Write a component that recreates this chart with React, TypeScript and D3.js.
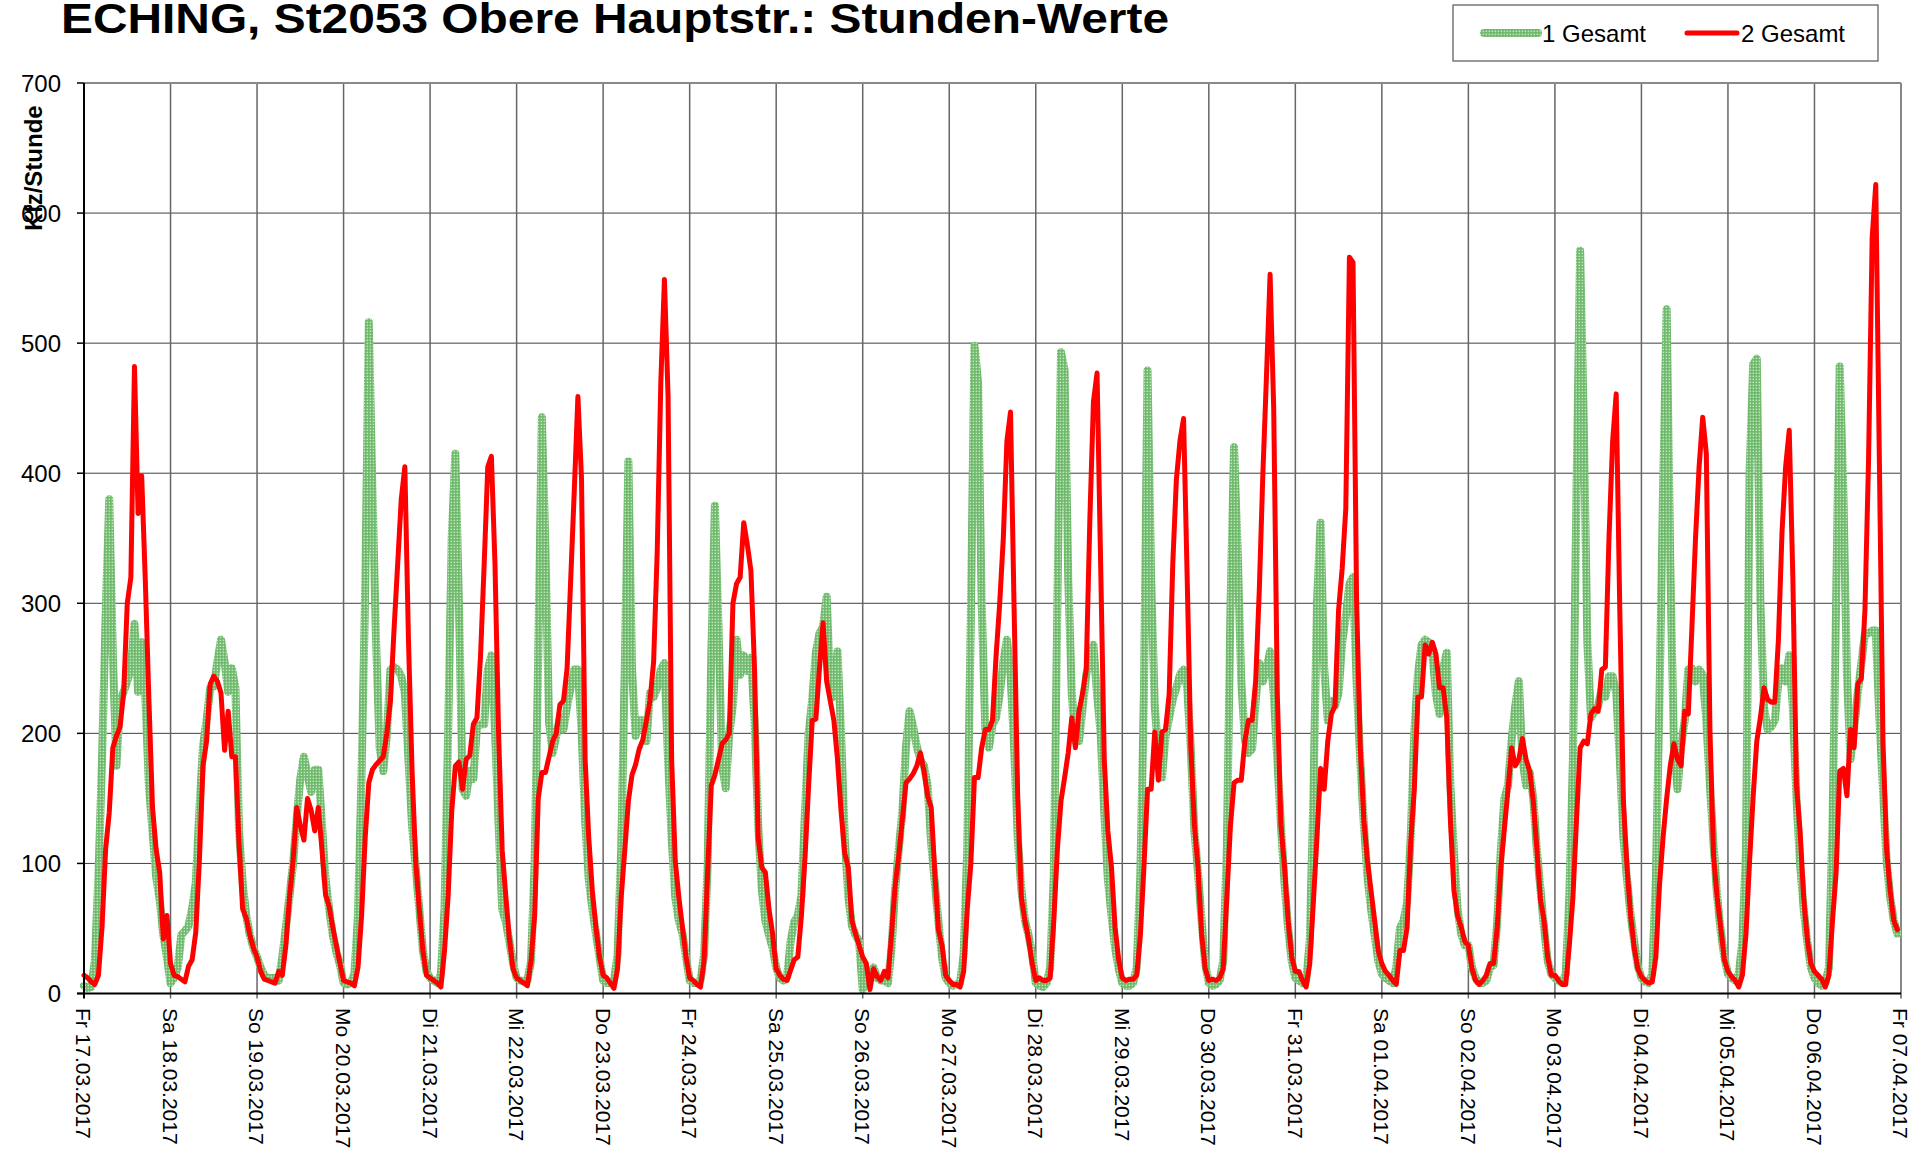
import { useEffect, useRef } from 'react';
import * as d3 from 'd3';

const TITLE = 'ECHING, St2053 Obere Hauptstr.: Stunden-Werte';

const dayLabels = [
  'Fr 17.03.2017', 'Sa 18.03.2017', 'So 19.03.2017', 'Mo 20.03.2017', 'Di 21.03.2017',
  'Mi 22.03.2017', 'Do 23.03.2017', 'Fr 24.03.2017', 'Sa 25.03.2017', 'So 26.03.2017',
  'Mo 27.03.2017', 'Di 28.03.2017', 'Mi 29.03.2017', 'Do 30.03.2017', 'Fr 31.03.2017',
  'Sa 01.04.2017', 'So 02.04.2017', 'Mo 03.04.2017', 'Di 04.04.2017', 'Mi 05.04.2017',
  'Do 06.04.2017', 'Fr 07.04.2017'
];

const yTicks = [0, 100, 200, 300, 400, 500, 600, 700];

// hourly values, one row per day (00..23 h)
const gesamt1 = [
  6, 4, 5, 25, 90, 180, 290, 380, 260, 175, 225, 232, 240, 250, 284, 232, 270, 230, 160, 125, 90, 72, 45, 28,
  8, 12, 20, 45, 48, 52, 65, 85, 140, 190, 210, 235, 236, 255, 272, 255, 232, 250, 235, 125, 85, 60, 45, 35,
  28, 20, 14, 12, 12, 12, 10, 28, 51, 75, 100, 135, 165, 182, 168, 155, 172, 172, 130, 88, 65, 45, 32, 22,
  8, 7, 8, 15, 60, 170, 310, 516, 387, 272, 189, 171, 198, 249, 251, 249, 244, 231, 180, 129, 97, 65, 33, 17,
  12, 10, 8, 15, 65, 200, 350, 415, 300, 157, 152, 171, 165, 205, 207, 207, 249, 260, 203, 130, 65, 55, 40, 23,
  12, 10, 9, 10, 25, 100, 260, 443, 341, 208, 185, 198, 212, 203, 221, 235, 249, 249, 203, 134, 88, 65, 46, 28,
  10, 8, 8, 10, 30, 110, 250, 409, 250, 198, 210, 210, 194, 231, 228, 235, 249, 254, 180, 120, 74, 56, 46, 28,
  10, 8, 8, 10, 30, 100, 260, 375, 280, 175, 158, 200, 222, 272, 245, 260, 248, 258, 210, 130, 80, 56, 45, 35,
  20, 12, 10, 12, 40, 55, 60, 75, 140, 200, 226, 262, 277, 282, 305, 235, 228, 263, 200, 120, 75, 52, 45, 40,
  3, 18, 15, 20, 12, 10, 10, 8, 35, 80, 111, 140, 190, 217, 205, 190, 180, 175, 160, 115, 85, 55, 28, 12,
  8, 6, 7, 8, 30, 111, 290, 498, 470, 300, 203, 189, 207, 212, 230, 255, 272, 245, 190, 120, 80, 56, 45, 30,
  8, 6, 5, 8, 20, 90, 300, 493, 479, 320, 230, 194, 194, 220, 245, 258, 268, 230, 200, 140, 88, 60, 35, 19,
  8, 6, 6, 8, 20, 90, 230, 479, 320, 221, 185, 166, 198, 212, 226, 235, 245, 249, 235, 189, 125, 93, 56, 23,
  8, 6, 7, 10, 25, 111, 295, 420, 340, 240, 195, 185, 188, 225, 254, 240, 250, 263, 231, 180, 130, 85, 50, 25,
  12, 10, 8, 10, 40, 150, 300, 362, 250, 210, 225, 221, 231, 270, 290, 315, 320, 240, 180, 130, 90, 65, 45, 25,
  15, 12, 10, 8, 20, 50, 56, 70, 120, 200, 245, 268, 272, 270, 262, 230, 215, 250, 262, 160, 108, 65, 46, 37,
  37, 20, 12, 8, 8, 10, 20, 22, 55, 110, 150, 160, 195, 221, 240, 180, 160, 170, 150, 110, 80, 50, 25, 15,
  12, 10, 8, 15, 74, 180, 387, 571, 440, 270, 212, 217, 221, 235, 228, 244, 244, 231, 180, 120, 88, 60, 40, 21,
  12, 9, 8, 15, 88, 226, 387, 526, 330, 190, 157, 190, 210, 249, 250, 240, 249, 245, 210, 160, 115, 75, 48, 28,
  15, 12, 10, 15, 40, 110, 400, 484, 488, 300, 220, 203, 205, 210, 240, 250, 240, 260, 220, 150, 100, 65, 40, 20,
  12, 8, 6, 8, 20, 130, 300, 482, 387, 245, 180, 203, 231, 254, 277, 277, 279, 279, 212, 157, 102, 74, 56, 46
];

const gesamt2 = [
  14, 12, 9, 7, 14, 51, 111, 139, 189, 198, 205, 231, 300, 320, 482, 369, 398, 318, 226, 143, 111, 93, 42, 60,
  23, 14, 13, 11, 9, 21, 26, 47, 102, 175, 194, 238, 244, 240, 231, 187, 217, 182, 182, 116, 65, 58, 45, 35,
  28, 17, 11, 10, 9, 8, 17, 14, 37, 74, 102, 143, 129, 118, 150, 141, 125, 143, 111, 76, 67, 51, 37, 23,
  10, 9, 8, 6, 20, 60, 120, 162, 172, 176, 179, 182, 200, 225, 280, 330, 380, 405, 272, 171, 102, 65, 33, 14,
  12, 10, 8, 5, 33, 75, 140, 175, 178, 157, 180, 183, 207, 212, 260, 330, 405, 413, 330, 200, 110, 75, 42, 19,
  12, 10, 8, 6, 25, 60, 150, 170, 170, 182, 194, 200, 222, 225, 250, 318, 387, 459, 396, 180, 120, 79, 51, 28,
  14, 12, 8, 4, 19, 74, 110, 148, 168, 176, 188, 195, 210, 225, 255, 340, 470, 549, 460, 180, 102, 74, 51, 28,
  12, 10, 7, 5, 25, 95, 160, 168, 180, 192, 195, 200, 300, 315, 320, 362, 345, 325, 249, 120, 97, 93, 65, 46,
  19, 14, 11, 10, 18, 26, 28, 60, 105, 160, 210, 211, 250, 285, 240, 225, 210, 180, 140, 108, 97, 56, 46, 37,
  28, 23, 3, 19, 13, 10, 17, 12, 46, 83, 106, 134, 162, 165, 169, 175, 185, 171, 152, 143, 93, 49, 37, 14,
  10, 7, 7, 5, 17, 65, 100, 166, 166, 189, 203, 203, 210, 260, 300, 350, 425, 447, 295, 150, 74, 56, 42, 23,
  10, 12, 10, 10, 12, 56, 111, 148, 166, 185, 212, 189, 217, 231, 249, 364, 455, 477, 330, 180, 125, 97, 51, 26,
  12, 10, 11, 11, 14, 44, 97, 157, 157, 201, 164, 201, 203, 230, 330, 395, 425, 442, 320, 190, 130, 97, 46, 19,
  10, 11, 10, 12, 19, 74, 129, 162, 164, 164, 194, 210, 210, 240, 310, 400, 475, 553, 450, 230, 130, 97, 56, 28,
  17, 17, 10, 5, 23, 70, 120, 173, 157, 194, 215, 221, 295, 327, 373, 566, 562, 300, 190, 134, 102, 79, 56, 33,
  23, 17, 14, 10, 7, 33, 33, 51, 116, 157, 228, 228, 268, 261, 270, 261, 235, 235, 212, 134, 79, 60, 51, 40,
  37, 19, 10, 7, 10, 14, 23, 23, 51, 97, 127, 157, 189, 175, 180, 196, 180, 171, 148, 111, 72, 56, 28, 14,
  14, 10, 7, 7, 37, 74, 134, 189, 194, 192, 215, 219, 217, 249, 251, 350, 424, 461, 295, 148, 97, 60, 35, 19,
  13, 10, 8, 9, 28, 83, 120, 150, 175, 192, 180, 175, 217, 215, 281, 350, 405, 443, 415, 203, 106, 74, 51, 26,
  17, 13, 10, 5, 14, 46, 102, 152, 194, 212, 235, 226, 224, 224, 272, 355, 405, 433, 320, 160, 125, 74, 42, 23,
  17, 14, 11, 5, 14, 56, 93, 171, 173, 152, 203, 189, 238, 242, 295, 410, 581, 622, 410, 194, 111, 79, 56, 49
];

const FONT = '"Liberation Sans", Arial, Helvetica, sans-serif';

export default function App() {
  const ref = useRef<SVGSVGElement | null>(null);

  useEffect(() => {
    if (!ref.current) return;
    const svg = d3.select(ref.current);
    svg.selectAll('*').remove();

    const left = 84, right = 1901, top = 83, bottom = 993.5;
    const hours = dayLabels.length - 1;

    const x = d3.scaleLinear().domain([0, hours * 24]).range([left, right]);
    const y = d3.scaleLinear().domain([0, 700]).range([bottom, top]);

    const defs = svg.append('defs');
    const pat = defs.append('pattern')
      .attr('id', 'greenPat')
      .attr('patternUnits', 'userSpaceOnUse')
      .attr('width', 3)
      .attr('height', 3);
    pat.append('rect').attr('width', 3).attr('height', 3).attr('fill', '#6cb86a');
    pat.append('rect').attr('x', 0.6).attr('y', 0.6).attr('width', 1.5).attr('height', 1.5).attr('fill', '#c4e7bf');

    svg.append('rect').attr('width', 1919).attr('height', 1152).attr('fill', '#fff');

    // title
    svg.append('text')
      .attr('x', 61)
      .attr('y', 33)
      .attr('font-family', FONT)
      .attr('font-weight', 'bold')
      .attr('font-size', 43)
      .attr('textLength', 1108)
      .attr('lengthAdjust', 'spacingAndGlyphs')
      .attr('fill', '#000')
      .text(TITLE);

    // horizontal grid
    svg.append('g')
      .selectAll('line')
      .data(yTicks.filter(d => d > 0 && d < 700))
      .enter()
      .append('line')
      .attr('x1', left).attr('x2', right)
      .attr('y1', d => y(d)).attr('y2', d => y(d))
      .attr('stroke', '#404040')
      .attr('stroke-width', 1);

    // vertical grid (days)
    svg.append('g')
      .selectAll('line')
      .data(d3.range(1, hours))
      .enter()
      .append('line')
      .attr('x1', d => x(d * 24)).attr('x2', d => x(d * 24))
      .attr('y1', top).attr('y2', bottom + 5)
      .attr('stroke', '#666')
      .attr('stroke-width', 1.5);

    // frame top / right
    svg.append('line')
      .attr('x1', left).attr('x2', right).attr('y1', top).attr('y2', top)
      .attr('stroke', '#888').attr('stroke-width', 2);
    svg.append('line')
      .attr('x1', right).attr('x2', right).attr('y1', top).attr('y2', bottom + 5)
      .attr('stroke', '#888').attr('stroke-width', 2);

    // series
    const line = d3.line<number>()
      .x((_, i) => x(i))
      .y(d => y(d));

    svg.append('path')
      .datum(gesamt1)
      .attr('d', line)
      .attr('fill', 'none')
      .attr('stroke', 'url(#greenPat)')
      .attr('stroke-width', 8)
      .attr('stroke-linejoin', 'round')
      .attr('stroke-linecap', 'round');

    svg.append('path')
      .datum(gesamt2)
      .attr('d', line)
      .attr('fill', 'none')
      .attr('stroke', '#ff0000')
      .attr('stroke-width', 5)
      .attr('stroke-linejoin', 'round')
      .attr('stroke-linecap', 'round');

    // axes
    svg.append('line')
      .attr('x1', left).attr('x2', left).attr('y1', top).attr('y2', bottom + 5)
      .attr('stroke', '#000').attr('stroke-width', 2);
    svg.append('line')
      .attr('x1', left - 7).attr('x2', right).attr('y1', bottom).attr('y2', bottom)
      .attr('stroke', '#000').attr('stroke-width', 2);

    const yAxis = svg.append('g');
    yAxis.selectAll('line')
      .data(yTicks)
      .enter()
      .append('line')
      .attr('x1', left - 7).attr('x2', left)
      .attr('y1', d => y(d)).attr('y2', d => y(d))
      .attr('stroke', '#000').attr('stroke-width', 1.5);
    yAxis.selectAll('text')
      .data(yTicks)
      .enter()
      .append('text')
      .attr('x', 61)
      .attr('y', d => y(d))
      .attr('dy', '0.36em')
      .attr('text-anchor', 'end')
      .attr('font-family', FONT)
      .attr('font-size', 24)
      .attr('fill', '#000')
      .text(d => d);

    svg.append('text')
      .attr('transform', 'translate(42,168) rotate(-90)')
      .attr('text-anchor', 'middle')
      .attr('font-family', FONT)
      .attr('font-weight', 'bold')
      .attr('font-size', 24)
      .attr('fill', '#000')
      .text('Kfz/Stunde');

    svg.append('g')
      .selectAll('text')
      .data(dayLabels)
      .enter()
      .append('text')
      .attr('transform', (_, i) => `translate(${x(i * 24)},1008) rotate(90)`)
      .attr('y', '0.36em')
      .attr('text-anchor', 'start')
      .attr('font-family', FONT)
      .attr('font-size', 21)
      .attr('fill', '#000')
      .text(d => d);

    // legend
    const lg = svg.append('g');
    lg.append('rect')
      .attr('x', 1453).attr('y', 5).attr('width', 425).attr('height', 56)
      .attr('fill', '#fff').attr('stroke', '#555').attr('stroke-width', 1.2);
    const items = [
      { label: '1 Gesamt', x1: 1484, x2: 1538, stroke: 'url(#greenPat)', w: 8 },
      { label: '2 Gesamt', x1: 1687, x2: 1737, stroke: '#ff0000', w: 5 }
    ];
    items.forEach(it => {
      lg.append('line')
        .attr('x1', it.x1).attr('x2', it.x2).attr('y1', 33).attr('y2', 33)
        .attr('stroke', it.stroke).attr('stroke-width', it.w)
        .attr('stroke-linecap', 'round');
      lg.append('text')
        .attr('x', it.x2 + 4)
        .attr('y', 42)
        .attr('font-family', FONT)
        .attr('font-size', 24)
        .attr('fill', '#000')
        .text(it.label);
    });
  }, []);

  return (
    <svg
      ref={ref}
      width={1919}
      height={1152}
      style={{ position: 'absolute', left: 0, top: 0, display: 'block' }}
    />
  );
}
